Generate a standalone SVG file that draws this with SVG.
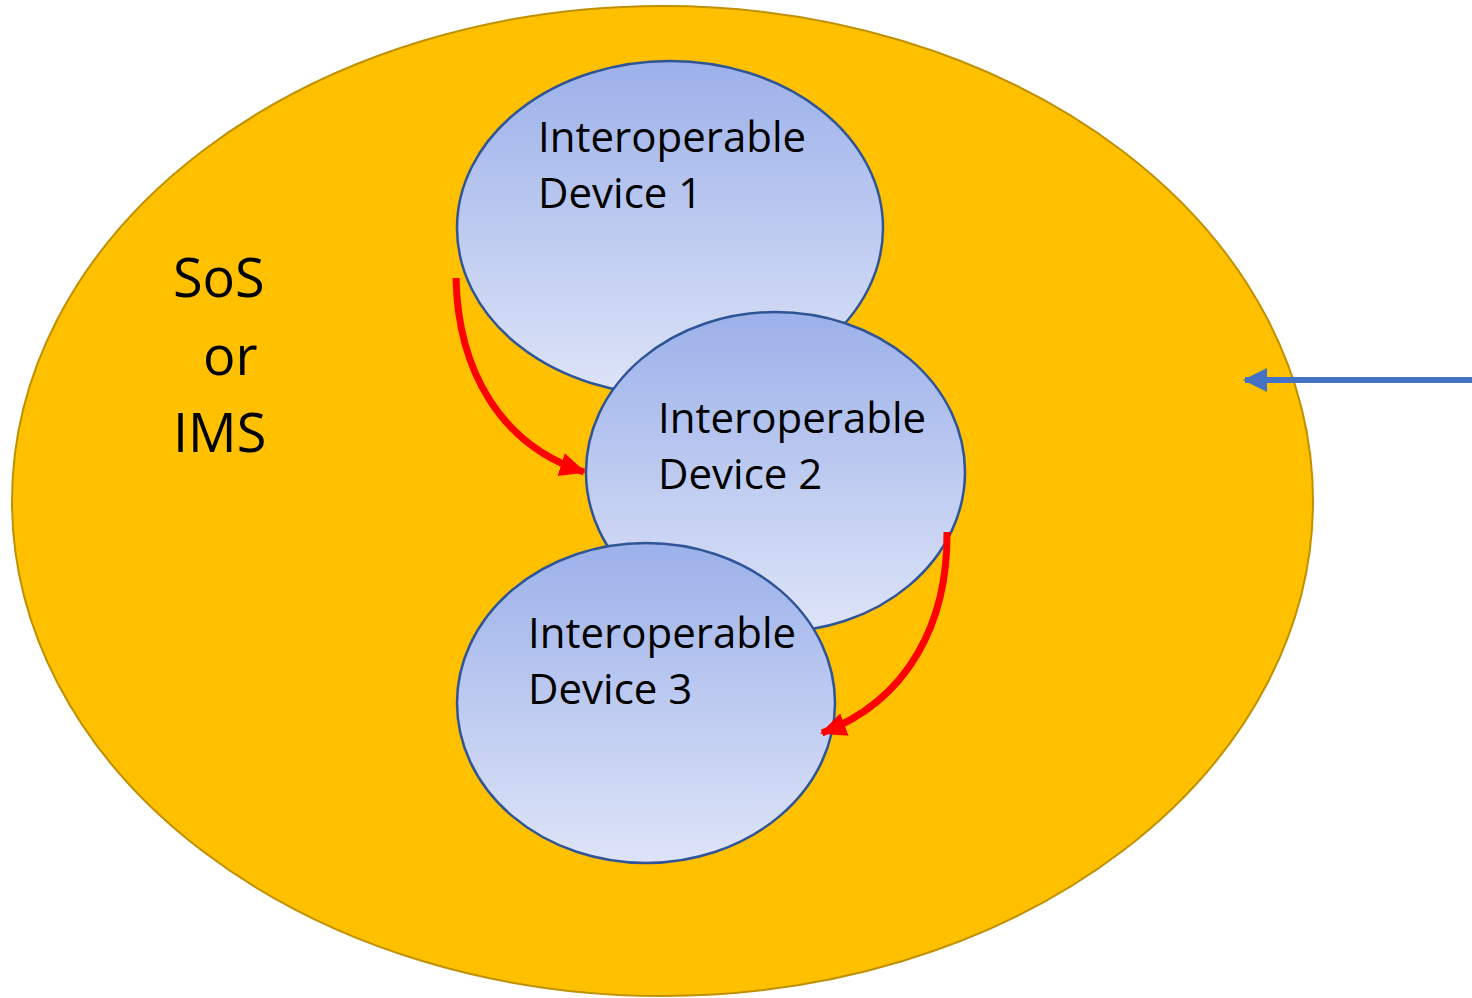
<svg xmlns="http://www.w3.org/2000/svg" width="1472" height="998" viewBox="0 0 1472 998">
<defs>
<linearGradient id="blueGrad" x1="0" y1="0" x2="0" y2="1">
<stop offset="0" stop-color="#9CB1EA"/>
<stop offset="1" stop-color="#DEE4F7"/>
</linearGradient>
<marker id="redHead" viewBox="0 0 26 24" refX="24" refY="12" markerWidth="26" markerHeight="24" markerUnits="userSpaceOnUse" orient="auto">
<path d="M0,0 L26,12 L0,24 z" fill="#FF0000"/>
</marker>
<marker id="blueHead" viewBox="0 0 24 24" refX="22" refY="12" markerWidth="24" markerHeight="24" markerUnits="userSpaceOnUse" orient="auto">
<path d="M0,0 L24,12 L0,24 z" fill="#4472C4"/>
</marker>
<style>
.dev{fill:url(#blueGrad);stroke:#2F5597;stroke-width:2.5}
.lbl{font-family:"Open Sans","Noto Sans",sans-serif;font-size:42px;fill:#000}
.big{font-family:"Open Sans","Noto Sans",sans-serif;font-size:54px;fill:#000}
.red{fill:none;stroke:#FF0000;stroke-width:7}
</style>
</defs>
<g id="sos">
<ellipse cx="662.5" cy="501" rx="650.5" ry="495" fill="#FFC000" stroke="#BF9000" stroke-width="2"/>
<text class="big" x="173" y="297">SoS</text>
<text class="big" x="203" y="375">or</text>
<text class="big" x="173" y="452">IMS</text>
</g>
<g id="device1">
<ellipse class="dev" cx="670" cy="228" rx="213" ry="167"/>
<text class="lbl" x="538" y="152">Interoperable</text>
<text class="lbl" x="538" y="208">Device 1</text>
</g>
<g id="device2">
<ellipse class="dev" cx="775.5" cy="472" rx="189.5" ry="160"/>
<text class="lbl" x="658" y="433">Interoperable</text>
<text class="lbl" x="658" y="489">Device 2</text>
</g>
<g id="device3">
<ellipse class="dev" cx="646" cy="703" rx="189" ry="160"/>
<text class="lbl" x="528" y="648">Interoperable</text>
<text class="lbl" x="528" y="704">Device 3</text>
</g>
<g id="connectors">
<path class="red" d="M456,278 C458,370 500,445 584,472" marker-end="url(#redHead)"/>
<path class="red" d="M947,532 C948,620 910,700 822,733" marker-end="url(#redHead)"/>
<path d="M1472,380 L1245,380" fill="none" stroke="#4472C4" stroke-width="6" marker-end="url(#blueHead)"/>
</g>
</svg>
